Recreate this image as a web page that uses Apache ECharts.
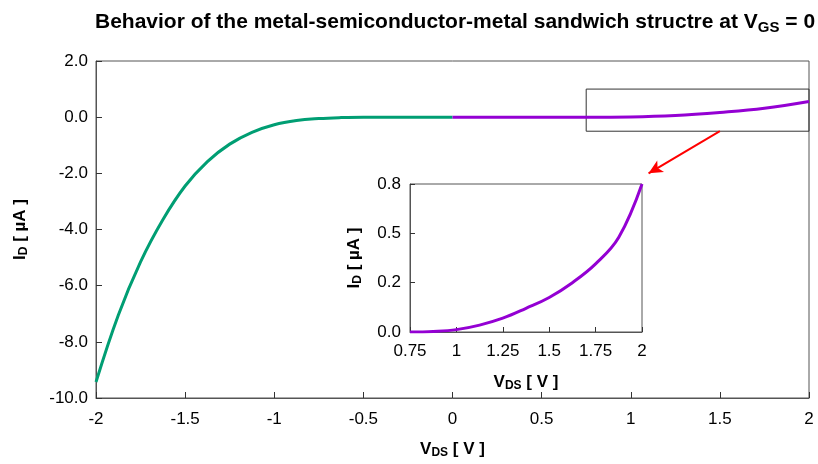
<!DOCTYPE html>
<html>
<head>
<meta charset="utf-8">
<script src="https://cdn.jsdelivr.net/npm/echarts@6/dist/echarts.min.js"></script>
<style>
  html, body { margin: 0; padding: 0; background: #fff; }
  #chart { width: 818px; height: 464px; }
</style>
</head>
<body>
<div id="chart"></div>
<script>
// reverse branch (green), V_DS < 0
const vNeg = [-2, -1.875, -1.75, -1.625, -1.5, -1.375, -1.25, -1.125, -1, -0.875, -0.75, -0.625, -0.5, -0.375, -0.25, -0.125, 0];
const iNeg = [-9.43, -7.05, -5.15, -3.65, -2.45, -1.58, -0.96, -0.54, -0.27, -0.12, -0.05, -0.015, 0, 0, 0, 0, 0];

// forward branch (purple), V_DS > 0
const vPos = [0, 0.25, 0.5, 0.75, 1, 1.25, 1.5, 1.75, 2];
const iPos = [0, 0, 0, 0, 0.01, 0.06, 0.17, 0.32, 0.56];

// inset (zoom of the forward branch)
const vZoom = [0.75, 0.875, 1, 1.125, 1.25, 1.375, 1.5, 1.625, 1.75, 1.875, 2];
const iZoom = [0, 0.003, 0.012, 0.035, 0.07, 0.12, 0.175, 0.25, 0.345, 0.48, 0.75];
const zoomYTicks = ['0.0', '0.2', '0.5', '0.8'];

// zoom box and arrow, in data units of the main plot
const zoomBox = [[0.75, 1.0], [2, -0.5]];
const arrowLine = [[1.5, -0.5], [1.1, -2.0]];

const FONT = 'Liberation Sans, Arial, sans-serif';

function pairs(xs, ys) {
    return xs.map((x, i) => [x, ys[i]]);
}

const nameRich = {
    b: {fontFamily: FONT, fontWeight: 'bold', fontSize: 17, color: '#000'},
    s: {fontFamily: FONT, fontWeight: 'bold', fontSize: 12, color: '#000', verticalAlign: 'bottom', padding: [8, 0, 0, 0]}
};

const axisLabelStyle = {fontFamily: FONT, fontSize: 17, color: '#000'};
const frameColor = '#555';

const chart = echarts.init(document.getElementById('chart'), null, {renderer: 'canvas'});

const option = {
    animation: false,
    backgroundColor: '#fff',
    title: {
        text: '{b|Behavior of the metal-semiconductor-metal sandwich structre at V}{s|GS}{b| = 0}',
        left: 90,
        top: 4,
        textStyle: {
            rich: {
                b: {fontFamily: FONT, fontWeight: 'bold', fontSize: 21, color: '#000'},
                s: {fontFamily: FONT, fontWeight: 'bold', fontSize: 15, color: '#000', padding: [11, 0, 0, 0]}
            }
        }
    },
    grid: [
        {left: 96, top: 61, width: 713, height: 345, show: true, borderColor: frameColor, borderWidth: 1, backgroundColor: '#fff'},
        {left: 410, top: 184, width: 232, height: 148, show: true, borderColor: frameColor, borderWidth: 1, backgroundColor: '#fff', z: 10}
    ],
    xAxis: [
        {
            gridIndex: 0, type: 'value', min: -2, max: 2, interval: 0.5,
            name: '{b|V}{s|DS}{b| [ V ]}', nameLocation: 'middle', nameGap: 41,
            nameTextStyle: {rich: nameRich},
            axisLine: {show: true, onZero: false, lineStyle: {color: frameColor}},
            axisTick: {show: true, inside: true, length: 6, lineStyle: {color: '#333'}},
            splitLine: {show: false},
            axisLabel: Object.assign({margin: 13, formatter: v => String(v)}, axisLabelStyle)
        },
        {
            gridIndex: 1, type: 'value', min: 0.75, max: 2, interval: 0.25,
            name: '{b|V}{s|DS}{b| [ V ]}', nameLocation: 'middle', nameGap: 40,
            nameTextStyle: {rich: nameRich},
            axisLine: {show: true, onZero: false, lineStyle: {color: frameColor}},
            axisTick: {show: true, inside: true, length: 5, lineStyle: {color: '#333'}},
            splitLine: {show: false},
            axisLabel: Object.assign({margin: 11, formatter: v => String(v)}, axisLabelStyle),
            z: 10
        }
    ],
    yAxis: [
        {
            gridIndex: 0, type: 'value', min: -10, max: 2, interval: 2,
            name: '{b|I}{s|D}{b| [ µA ]}', nameLocation: 'middle', nameGap: 66, nameRotate: 90,
            nameTextStyle: {rich: nameRich},
            axisLine: {show: true, onZero: false, lineStyle: {color: frameColor}},
            axisTick: {show: true, inside: true, length: 6, lineStyle: {color: '#333'}},
            splitLine: {show: false},
            axisLabel: Object.assign({margin: 8, formatter: v => v.toFixed(1)}, axisLabelStyle)
        },
        {
            gridIndex: 1, type: 'value', min: 0, max: 0.75, interval: 0.25,
            name: '{b|I}{s|D}{b| [ µA ]}', nameLocation: 'middle', nameGap: 46, nameRotate: 90,
            nameTextStyle: {rich: nameRich},
            axisLine: {show: true, onZero: false, lineStyle: {color: frameColor}},
            axisTick: {show: true, inside: true, length: 5, lineStyle: {color: '#333'}},
            splitLine: {show: false},
            axisLabel: Object.assign({margin: 9, formatter: (v, i) => zoomYTicks[i]}, axisLabelStyle),
            z: 10
        }
    ],
    series: [
        {
            type: 'line', xAxisIndex: 0, yAxisIndex: 0,
            data: pairs(vNeg, iNeg), smooth: 0.4, showSymbol: false,
            lineStyle: {color: '#009e73', width: 3}
        },
        {
            type: 'line', xAxisIndex: 0, yAxisIndex: 0,
            data: pairs(vPos, iPos), smooth: 0.4, showSymbol: false,
            lineStyle: {color: '#9400d3', width: 3},
            markArea: {
                silent: true,
                itemStyle: {color: 'rgba(0,0,0,0)', borderColor: '#333', borderWidth: 1},
                data: [[{coord: zoomBox[0]}, {coord: zoomBox[1]}]]
            },
            markLine: {
                silent: true,
                symbol: ['none', 'arrow'],
                symbolSize: [10, 14],
                label: {show: false},
                lineStyle: {color: '#ff0000', width: 2, type: 'solid'},
                data: [[{coord: arrowLine[0]}, {coord: arrowLine[1]}]]
            }
        },
        {
            type: 'line', xAxisIndex: 1, yAxisIndex: 1,
            data: pairs(vZoom, iZoom), smooth: 0.4, showSymbol: false,
            lineStyle: {color: '#9400d3', width: 3}, z: 12
        }
    ]
};

chart.setOption(option);
</script>
</body>
</html>
